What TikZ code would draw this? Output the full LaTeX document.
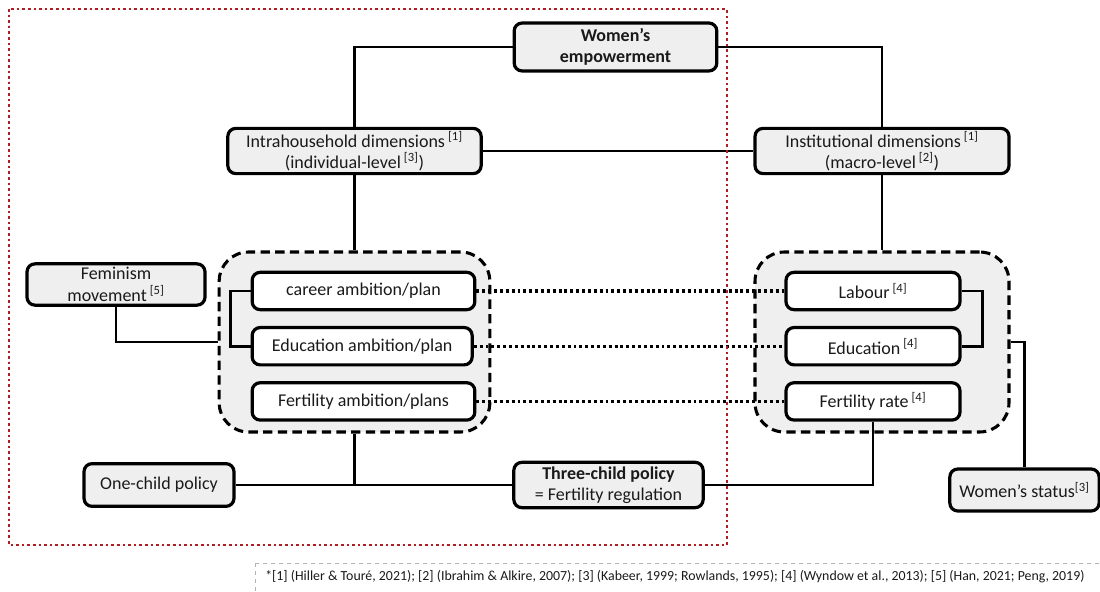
\documentclass[tikz,border=0pt]{standalone}
\usepackage{fontspec}
\setmainfont{Carlito}
\usepackage{tikz}
\usetikzlibrary{positioning}
\definecolor{boxgray}{HTML}{EFEFEF}
\definecolor{framered}{HTML}{B01E24}
\definecolor{inkgray}{HTML}{1A1A1A}
\newcommand{\srcref}[1]{\textsuperscript{[#1]}}

\begin{document}
\begin{tikzpicture}[x=0.75pt,y=-0.75pt,
  font=\fontsize{13.5}{16}\selectfont,text=inkgray,
  node distance=11pt and 11pt,
  box/.style={draw=black,line width=2.4pt,rounded corners=6pt,fill=boxgray,align=center,inner sep=2pt},
  plan/.style={box,fill=white,minimum height=28pt},
  group/.style={draw=black,line width=2.3pt,dash pattern=on 7pt off 4pt,rounded corners=22pt,
                fill=boxgray,minimum width=203pt,minimum height=135pt},
  link/.style={line width=2.2pt,black},
  match/.style={line width=2.4pt,dash pattern=on 2.2pt off 2.2pt,black}
]
  \useasboundingbox (0,0) rectangle (1100,592);
  \node[box,font=\fontsize{13.5}{16}\selectfont\bfseries,minimum width=152pt,minimum height=36pt] (women) at (615.5,47) {Women’s\\empowerment};
  \node[box,minimum width=190pt,minimum height=33pt] (intra) at (354.5,151) {Intrahousehold dimensions\,\srcref{1}\\(individual-level\,\srcref{3})};
  \node[box,minimum width=190.5pt,minimum height=33pt] (inst) at (882,151) {Institutional dimensions\,\srcref{1}\\(macro-level\,\srcref{2})};
  \node[box,minimum width=133.5pt,minimum height=31pt] (feminism) at (116,284.5) {Feminism\\movement\,\srcref{5}};
  \node[group] (ambitions) at (354.5,342) {};
  \node[group,minimum width=190.5pt] (outcomes) at (882,342) {};
  \node[plan,minimum width=167pt] (career) at (363.5,291) {career ambition/plan};
  \node[plan,minimum width=165pt,below=of career.south west,anchor=north west] (eduplan) {Education ambition/plan};
  \node[plan,minimum width=167pt,below=of eduplan.south west,anchor=north west] (fertplan) {Fertility ambition/plans};
  \node[plan,minimum width=130.5pt] (labour) at (873,291) {Labour\,\srcref{4}};
  \node[plan,minimum width=130.5pt,below=of labour] (education) {Education\,\srcref{4}};
  \node[plan,minimum width=130.5pt,below=of education] (fertrate) {Fertility rate\,\srcref{4}};
  \node[box,minimum width=112.5pt,minimum height=32pt] (onechild) at (159,485) {One-child policy};
  \node[box,minimum width=142pt,minimum height=34pt] (threechild) at (608.5,485) {\textbf{Three-child policy}\\= Fertility regulation};
  \node[box,minimum width=112pt,minimum height=31.5pt] (status) at (1024.5,490) {Women’s status\srcref{3}};
  \draw[link] (women.west) -| (intra.north);
  \draw[link] (women.east) -| (inst.north);
  \draw[link] (intra.east) -- (inst.west);
  \draw[link] (intra.south) -- (ambitions.north);
  \draw[link] (inst.south) -- (outcomes.north);
  \draw[link] (feminism.south) |- (ambitions.west);
  \draw[link] (career.west) -- ++(-20,0) |- (eduplan.west);
  \draw[link] (labour.east) -- ++(21,0) |- (education.east);
  \draw[link] (outcomes.east) -| (status.north);
  \draw[link] (onechild.east) -- (threechild.west);
  \draw[link] (ambitions.south) -- (ambitions.south |- onechild.east);
  \draw[link] (fertrate.south) |- (threechild.east);
  \draw[match] (career.east) -- (career.east -| labour.west);
  \draw[match] (eduplan.east) -- (eduplan.east -| education.west);
  \draw[match] (fertplan.east) -- (fertplan.east -| fertrate.west);
  \draw[framered,line width=2.2pt,dash pattern=on 2pt off 2.2pt] (9,9) rectangle (727,545);
  \draw[gray!60,line width=0.6pt,dashed] (255,563) rectangle (1120,620);
  \node[anchor=west,font=\fontsize{10.4}{12}\selectfont,inner sep=0pt] (note) at (265,577)
    {*[1] (Hiller \& Touré, 2021); [2] (Ibrahim \& Alkire, 2007); [3] (Kabeer, 1999; Rowlands, 1995); [4] (Wyndow et al., 2013); [5] (Han, 2021; Peng, 2019)};
\end{tikzpicture}
\end{document}
